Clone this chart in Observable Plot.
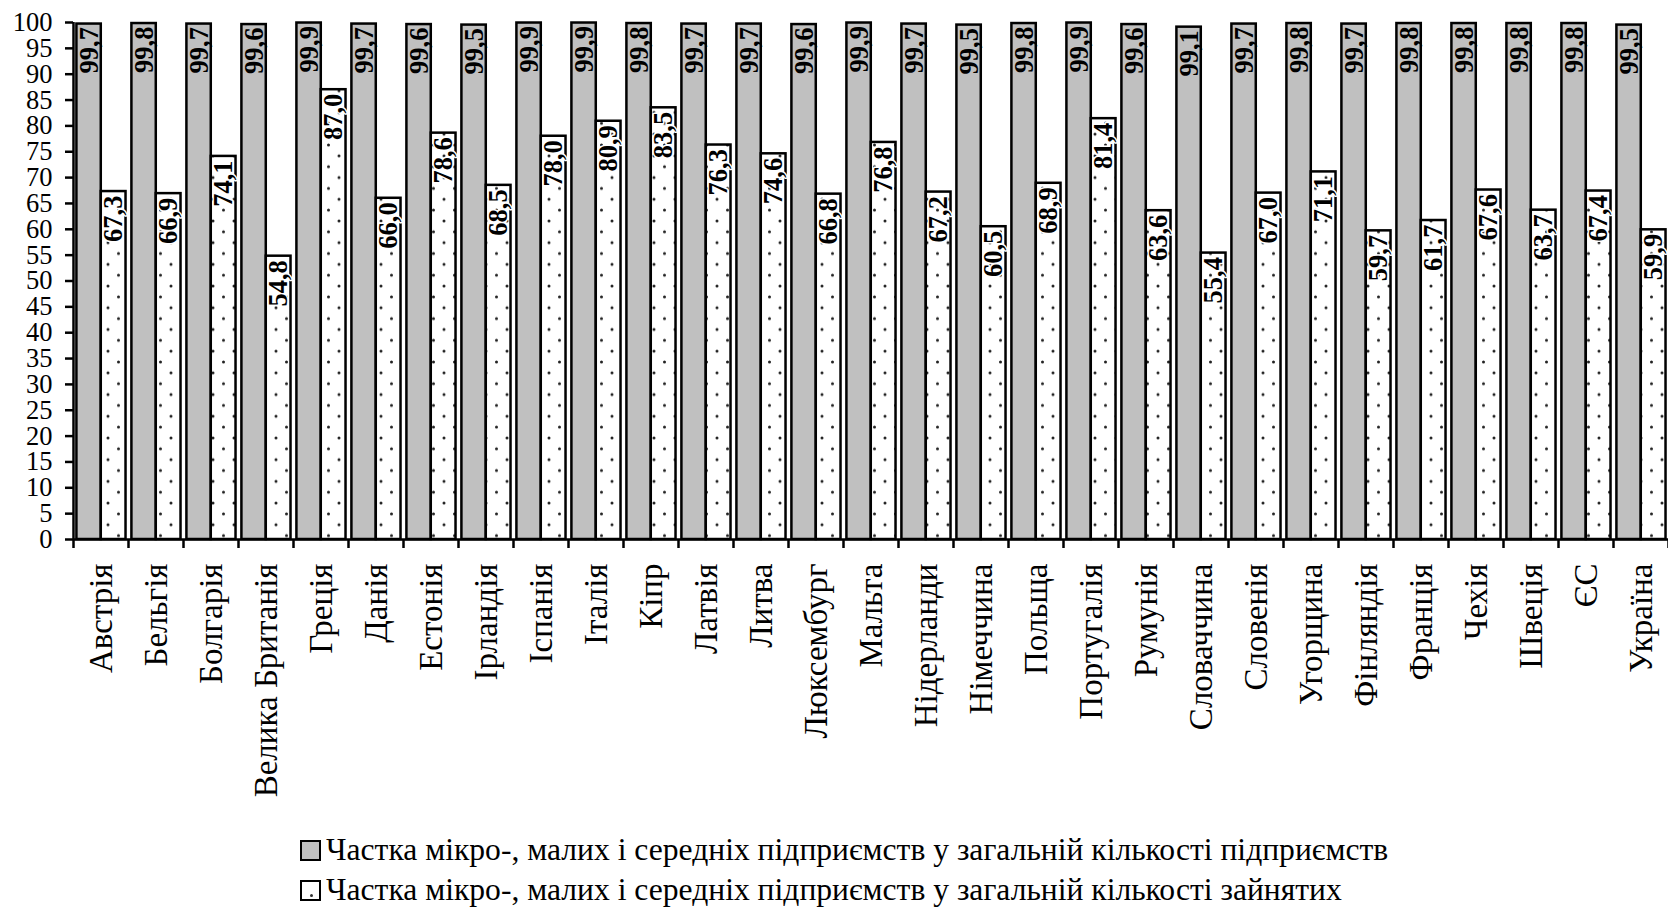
<!DOCTYPE html>
<html>
<head>
<meta charset="utf-8">
<script src="https://cdn.jsdelivr.net/npm/d3@7"></script>
<script src="https://cdn.jsdelivr.net/npm/@observablehq/plot@0.6"></script>
<style>
  html, body { margin: 0; padding: 0; background: #fff; }
  body { font-family: "Liberation Serif", "Times New Roman", serif; width: 1668px; overflow: hidden; }
  #legend { padding-top: 20px; padding-left: 300px; font-size: 31.6px; color: #000; }
  .row { height: 40px; line-height: 40px; display: flex; align-items: center; white-space: nowrap; }
  .sw { width: 17px; height: 17px; border: 2px solid #000; margin-right: 5px; box-sizing: content-box; position: relative; flex: none; }
  .sw.dot::after { content: ""; position: absolute; width: 3px; height: 3px; border-radius: 2px; background: #333; left: 8px; top: 12px; }
</style>
</head>
<body>
<div id="chart"></div>
<div id="legend"></div>
<script>
const countries = ["Австрія", "Бельгія", "Болгарія", "Велика Британія", "Греція", "Данія", "Естонія", "Ірландія", "Іспанія", "Італія", "Кіпр", "Латвія", "Литва", "Люксембург", "Мальта", "Нідерланди", "Німеччина", "Польща", "Португалія", "Румунія", "Словаччина", "Словенія", "Угорщина", "Фінляндія", "Франція", "Чехія", "Швеція", "ЄС", "Україна"];
const enterprises = [99.7, 99.8, 99.7, 99.6, 99.9, 99.7, 99.6, 99.5, 99.9, 99.9, 99.8, 99.7, 99.7, 99.6, 99.9, 99.7, 99.5, 99.8, 99.9, 99.6, 99.1, 99.7, 99.8, 99.7, 99.8, 99.8, 99.8, 99.8, 99.5];
const employed = [67.3, 66.9, 74.1, 54.8, 87.0, 66.0, 78.6, 68.5, 78.0, 80.9, 83.5, 76.3, 74.6, 66.8, 76.8, 67.2, 60.5, 68.9, 81.4, 63.6, 55.4, 67.0, 71.1, 59.7, 61.7, 67.6, 63.7, 67.4, 59.9];
const yTicks = d3.range(0, 101, 5);
const seriesNames = [
  "Частка мікро-, малих і середніх підприємств у загальній кількості підприємств",
  "Частка мікро-, малих і середніх підприємств у загальній кількості зайнятих"
];

const rowsA = countries.map((c, i) => ({i, country: c, value: enterprises[i]}));
const rowsB = countries.map((c, i) => ({i, country: c, value: employed[i]}));
const fmt = v => v.toFixed(1).replace(".", ",");

const G0 = 0.062, G1 = 0.505, W1 = 0.955;

const svg = Plot.plot({
  width: 1668,
  height: 810,
  marginLeft: 73,
  marginRight: 0,
  marginTop: 22,
  marginBottom: 271,
  style: {fontFamily: "Liberation Serif, Times New Roman, serif", background: "#fff", color: "#000", overflow: "visible"},
  x: {type: "linear", domain: [0, countries.length], axis: null},
  y: {domain: [0, 100], axis: null},
  marks: [
    Plot.rectY(rowsA, {x1: d => d.i + G0, x2: d => d.i + G1, y1: 0, y2: "value", fill: "#c0c0c0", stroke: "#000", strokeWidth: 2.5}),
    Plot.rectY(rowsB, {x1: d => d.i + G1, x2: d => d.i + W1, y1: 0, y2: "value", fill: "url(#dots)", stroke: "#000", strokeWidth: 2.5}),
    Plot.text(rowsA, {x: d => d.i + (G0 + G1) / 2, y: "value", text: d => fmt(d.value), rotate: -90, textAnchor: "end", lineAnchor: "middle", dy: 3, fontSize: 26.5, fontWeight: "bold", fill: "#000"}),
    Plot.text(rowsB, {x: d => d.i + (G1 + W1) / 2, y: "value", text: d => fmt(d.value), rotate: -90, textAnchor: "end", lineAnchor: "middle", dy: 4, fontSize: 26.5, fontWeight: "bold", fill: "#000", stroke: "#fff", strokeWidth: 3}),
    Plot.ruleY([0], {stroke: "#000", strokeWidth: 2.5}),
    Plot.ruleX([0], {y1: 0, y2: 100, stroke: "#000", strokeWidth: 2.5}),
    Plot.axisY({ticks: yTicks, tickSize: 8, tickPadding: 13, fontSize: 26.5, label: null, tickFormat: d => String(d), strokeWidth: 2.5}),
    Plot.axisX({ticks: d3.range(0, countries.length + 1), tickSize: 9, label: null, tickFormat: () => "", strokeWidth: 2.5}),
    Plot.axisX({ticks: countries.map((c, i) => i + 0.5), tickSize: 0, tickPadding: 24, fontSize: 33, label: null, rotate: -90, textAnchor: "end", lineAnchor: "middle", tickFormat: d => countries[Math.floor(d)]})
  ]
});

// dot pattern for the second series
const ns = "http://www.w3.org/2000/svg";
const defs = document.createElementNS(ns, "defs");
const pat = document.createElementNS(ns, "pattern");
pat.setAttribute("id", "dots");
pat.setAttribute("patternUnits", "userSpaceOnUse");
pat.setAttribute("width", "21");
pat.setAttribute("height", "21.7");
const bg = document.createElementNS(ns, "rect");
bg.setAttribute("width", "21"); bg.setAttribute("height", "21.7"); bg.setAttribute("fill", "#fff");
pat.appendChild(bg);
[[3, 4], [13.5, 14.8]].forEach(([cx, cy]) => {
  const c = document.createElementNS(ns, "circle");
  c.setAttribute("cx", cx); c.setAttribute("cy", cy); c.setAttribute("r", "1.5"); c.setAttribute("fill", "#222");
  pat.appendChild(c);
});
defs.appendChild(pat);
svg.insertBefore(defs, svg.firstChild);

document.getElementById("chart").appendChild(svg);

const legend = document.getElementById("legend");
seriesNames.forEach((name, k) => {
  const row = document.createElement("div");
  row.className = "row";
  const sw = document.createElement("span");
  sw.className = "sw" + (k === 1 ? " dot" : "");
  sw.style.background = k === 0 ? "#c0c0c0" : "#fff";
  const t = document.createElement("span");
  t.textContent = name;
  row.appendChild(sw);
  row.appendChild(t);
  legend.appendChild(row);
});
</script>
</body>
</html>
